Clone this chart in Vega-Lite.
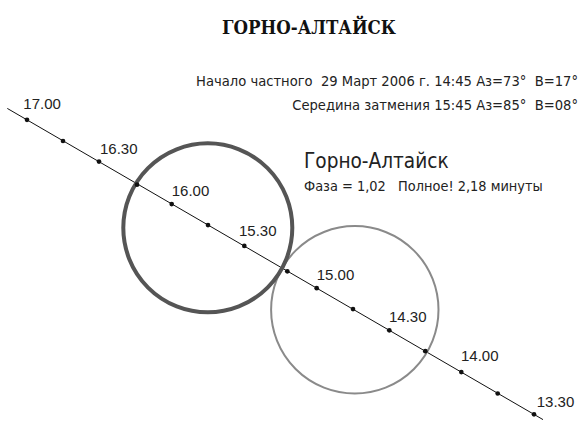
{
  "$schema": "https://vega.github.io/schema/vega-lite/v6.json",
  "width": 581,
  "height": 422,
  "padding": 0,
  "autosize": {"type": "fit", "contains": "padding"},
  "background": "white",
  "config": {"view": {"stroke": null}},
  "datasets": {
    "track": [
      {"x": 7.3, "y": 109.2},
      {"x": 543, "y": 422.6}
    ],
    "discs": [
      {"body": "Луна", "x": 207.8, "y": 229.5},
      {"body": "Солнце", "x": 354.8, "y": 312}
    ],
    "dots": [
      {"t": "17.00", "x": 27, "y": 120.7},
      {"t": "16.45", "x": 63, "y": 142},
      {"t": "16.30", "x": 99, "y": 162.7},
      {"t": "16.15", "x": 137, "y": 186},
      {"t": "16.00", "x": 171.7, "y": 205.5},
      {"t": "15.45", "x": 208, "y": 226.7},
      {"t": "15.30", "x": 244.3, "y": 247.7},
      {"t": "15.15", "x": 287.3, "y": 273.3},
      {"t": "15.00", "x": 316.7, "y": 290.2},
      {"t": "14.45", "x": 353, "y": 311.3},
      {"t": "14.30", "x": 389.3, "y": 332.7},
      {"t": "14.15", "x": 425.3, "y": 353.7},
      {"t": "14.00", "x": 461.3, "y": 374.7},
      {"t": "13.45", "x": 497.7, "y": 396.3},
      {"t": "13.30", "x": 534, "y": 417.3}
    ],
    "labels": [
      {"t": "17.00", "x": 23.3, "y": 109.3},
      {"t": "16.30", "x": 100, "y": 155},
      {"t": "16.00", "x": 171.7, "y": 197.7},
      {"t": "15.30", "x": 239, "y": 237.3},
      {"t": "15.00", "x": 316.7, "y": 282.3},
      {"t": "14.30", "x": 389, "y": 324.3},
      {"t": "14.00", "x": 461, "y": 363.7},
      {"t": "13.30", "x": 536.7, "y": 410.3}
    ],
    "header": [
      {"text": "Начало частного \u00a029 Март 2006 г. 14:45 Аз=73° \u00a0В=17°", "x": 578, "y": 87},
      {"text": "Середина затмения 15:45 Аз=85° \u00a0В=08°", "x": 578, "y": 110.5}
    ],
    "city": [{"text": "Горно-Алтайск", "x": 304, "y": 169}],
    "phase": [{"text": "Фаза = 1,02 \u00a0 Полное! 2,18 минуты", "x": 304, "y": 192}],
    "title": [{"text": "ГОРНО-АЛТАЙСК", "x": 309, "y": 34}]
  },
  "encoding": {
    "x": {"field": "x", "type": "quantitative", "axis": null, "scale": {"domain": [0, 581], "nice": false, "zero": false}},
    "y": {"field": "y", "type": "quantitative", "axis": null, "scale": {"domain": [0, 422], "nice": false, "zero": false, "reverse": true}}
  },
  "layer": [
    {
      "data": {"name": "track"},
      "mark": {"type": "line", "color": "#111111", "strokeWidth": 1, "clip": false},
      "encoding": {"order": {"field": "x", "type": "quantitative"}}
    },
    {
      "data": {"name": "discs"},
      "transform": [{"filter": "datum.body === 'Солнце'"}],
      "mark": {"type": "point", "shape": "circle", "filled": false, "size": 28023, "stroke": "#8a8a8a", "strokeWidth": 2, "opacity": 1},
      "encoding": {}
    },
    {
      "data": {"name": "discs"},
      "transform": [{"filter": "datum.body === 'Луна'"}],
      "mark": {"type": "point", "shape": "circle", "filled": false, "size": 28561, "stroke": "#555555", "strokeWidth": 4, "opacity": 1},
      "encoding": {}
    },
    {
      "data": {"name": "dots"},
      "mark": {"type": "point", "shape": "circle", "filled": true, "size": 22, "color": "#111111", "opacity": 1},
      "encoding": {}
    },
    {
      "data": {"name": "labels"},
      "mark": {"type": "text", "align": "left", "baseline": "alphabetic", "font": "Liberation Sans", "fontSize": 15, "color": "#222222"},
      "encoding": {"text": {"field": "t"}}
    },
    {
      "data": {"name": "header"},
      "mark": {"type": "text", "align": "right", "baseline": "alphabetic", "font": "DejaVu Sans Condensed, Liberation Sans, sans-serif", "fontSize": 14.6, "color": "#222222"},
      "encoding": {"text": {"field": "text"}}
    },
    {
      "data": {"name": "city"},
      "mark": {"type": "text", "align": "left", "baseline": "alphabetic", "font": "DejaVu Sans Condensed, Liberation Sans, sans-serif", "fontSize": 20.6, "color": "#222222"},
      "encoding": {"text": {"field": "text"}}
    },
    {
      "data": {"name": "phase"},
      "mark": {"type": "text", "align": "left", "baseline": "alphabetic", "font": "DejaVu Sans Condensed, Liberation Sans, sans-serif", "fontSize": 14.4, "color": "#222222"},
      "encoding": {"text": {"field": "text"}}
    },
    {
      "data": {"name": "title"},
      "mark": {"type": "text", "align": "center", "baseline": "alphabetic", "font": "DejaVu Serif Condensed, DejaVu Serif, serif", "fontWeight": "bold", "fontSize": 18.5, "color": "#111111"},
      "encoding": {"text": {"field": "text"}}
    }
  ]
}
